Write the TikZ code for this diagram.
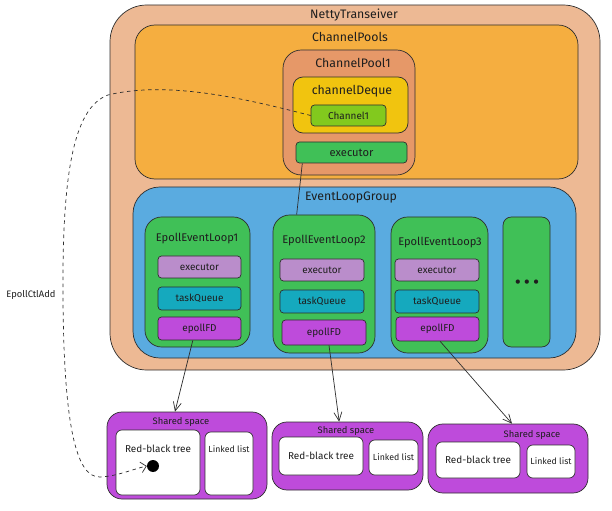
\documentclass[tikz,border=0pt]{standalone}
\usepackage{fontspec}
\setmainfont{Fira Sans}
\usepackage{xcolor}
\usepackage{tikz}
\usetikzlibrary{arrows.meta,positioning,fit}
\definecolor{ink}{HTML}{1E1E1E}
\definecolor{edge}{HTML}{2E2E2E}
\definecolor{peach}{HTML}{EDB994}
\definecolor{poolorange}{HTML}{F5AE40}
\definecolor{poolone}{HTML}{E69868}
\definecolor{deque}{HTML}{F1C40F}
\definecolor{chan}{HTML}{82C91E}
\definecolor{leaf}{HTML}{40C057}
\definecolor{sky}{HTML}{5AABE0}
\definecolor{lilac}{HTML}{BA8DCB}
\definecolor{tealq}{HTML}{15A9BE}
\definecolor{grape}{HTML}{BE4BDB}

\begin{document}
\begin{tikzpicture}[
  x=0.03cm, y=-0.03cm,
  font=\small, text=ink,
  panel/.style={draw=edge, line width=0.6pt, inner sep=0pt},
  item/.style={draw=edge, line width=0.6pt, inner sep=0pt, rounded corners=3pt},
  tag/.style={label={[font=\fontsize{8.5}{10}\selectfont, inner sep=0pt]center:#1}},
  bigtag/.style={label={[font=\fontsize{9.5}{11}\selectfont, inner sep=0pt]center:#1}},
  smalltag/.style={label={[font=\fontsize{7.5}{9}\selectfont, inner sep=0pt]center:#1}},
  memo/.style={draw=edge, line width=0.6pt, inner sep=0pt, fill=white, rounded corners=5pt},
  title/.style={font=\fontsize{10.5}{12}\selectfont, inner sep=1pt},
  looptitle/.style={font=\fontsize{9.5}{11}\selectfont, inner sep=1pt},
  tiny/.style={font=\fontsize{8}{9}\selectfont, inner sep=1pt},
  flow/.style={-{Straight Barb[length=2.6mm, width=2.4mm]}, draw=edge, line width=0.6pt},
  wire/.style={draw=edge, line width=0.6pt},
  link/.style={dashed, draw=edge, line width=0.6pt, -{Straight Barb[length=1.6mm]}}
]
  \useasboundingbox (0,0) rectangle (612,511);

  % transceiver and its channel pools
  \node[panel, fill=peach, rounded corners=1.1cm, fit={(110,5) (600,370)}] (netty) {};
  \node[title] (t-netty) at (354,15) {NettyTranseiver};
  \node[panel, fill=poolorange, rounded corners=0.6cm, fit={(135,25) (578,179)}] (pools) {};
  \node[title] (t-pools) at (350,37) {ChannelPools};
  \node[panel, fill=poolone, rounded corners=0.55cm, fit={(283,50) (415,175)}] (pool1) {};
  \node[title] (t-pool1) at (353,63) {ChannelPool1};
  \node[panel, fill=deque, rounded corners=0.3cm, fit={(293,77) (408,133)}] (deque) {};
  \node[title] (t-deque) at (352,91) {channelDeque};
  \node[item, fill=chan, fit={(311,105) (386,126)}, tag=Channel1] (chan1) {};
  \node[item, fill=leaf, fit={(296,142) (407,163)}, bigtag=executor] (exec0) {};

  % event loop group
  \node[panel, fill=sky, rounded corners=0.8cm, fit={(133,187) (576,358)}] (group) {};
  \node[title] (t-group) at (351,197) {EventLoopGroup};

  \node[panel, fill=leaf, rounded corners=0.5cm, fit={(145,217) (250,347)}] (loop1) {};
  \node[looptitle] (t-loop1) at (197,239) {EpollEventLoop1};
  \node[item, fill=lilac, fit={(158,256) (241,278)}, tag=executor] (ex1) {};
  \node[item, fill=tealq, fit={(158,287) (241,310)}, tag=taskQueue] (tq1) {};
  \node[item, fill=grape, fit={(158,317) (241,340)}, tag=epollFD] (fd1) {};

  \node[panel, fill=leaf, rounded corners=0.5cm, fit={(273,215) (375,353)}] (loop2) {};
  \node[looptitle] (t-loop2) at (324,241) {EpollEventLoop2};
  \node[item, fill=lilac, fit={(280,259) (364,281)}, tag=executor] (ex2) {};
  \node[item, fill=tealq, fit={(280,290) (364,313)}, tag=taskQueue] (tq2) {};
  \node[item, fill=grape, fit={(282,320) (366,345)}, tag=epollFD] (fd2) {};

  \node[panel, fill=leaf, rounded corners=0.5cm, fit={(391,217) (488,353)}] (loop3) {};
  \node[looptitle] (t-loop3) at (440,243) {EpollEventLoop3};
  \node[item, fill=lilac, fit={(395,259) (479,281)}, tag=executor] (ex3) {};
  \node[item, fill=tealq, fit={(395,290) (479,313)}, tag=taskQueue] (tq3) {};
  \node[item, fill=grape, fit={(396,317) (479,341)}, tag=epollFD] (fd3) {};

  \node[panel, fill=leaf, rounded corners=0.25cm, fit={(503,217) (550,347)}] (more) {};
  \node[font=\fontsize{16}{16}\selectfont, inner sep=0pt] (dots) at (527,284) {\textbullet\,\textbullet\,\textbullet};

  % shared spaces
  \node[panel, fill=grape, rounded corners=0.45cm, fit={(107,412) (267,499)}] (ss1) {};
  \node[tiny] (t-ss1) at (181,422) {Shared space};
  \node[memo, fit={(116,430) (200,495)}] (rbt1) {};
  \node[tiny, font=\fontsize{8.5}{10}\selectfont] (t-rbt1) at (158,449) {Red-black tree};
  \node[memo, fit={(205,432) (253,495)}] (ll1) {};
  \node[tiny, font=\fontsize{7.5}{9}\selectfont] (t-ll1) at (229,449) {Linked list};
  \node[circle, fill=black, minimum size=0.36cm, inner sep=0pt] (dot) at (153,466) {};

  \node[panel, fill=grape, rounded corners=0.45cm, fit={(272,422) (423,490)}] (ss2) {};
  \node[tiny] (t-ss2) at (346,431) {Shared space};
  \node[memo, fit={(279,437) (363,475)}, tag=Red-black tree] (rbt2) {};
  \node[memo, fit={(369,440) (418,475)}, smalltag=Linked list] (ll2) {};

  \node[panel, fill=grape, rounded corners=0.45cm, fit={(428,424) (588,493)}] (ss3) {};
  \node[tiny] (t-ss3) at (532,435) {Shared space};
  \node[memo, fit={(436,442) (520,478)}, tag=Red-black tree] (rbt3) {};
  \node[memo, fit={(527,445) (575,478)}, smalltag=Linked list] (ll3) {};

  % connectors
  \draw[wire] ([xshift=0.2cm]exec0.south west) -- ([xshift=0.72cm]loop2.north west);
  \draw[flow] ([xshift=-0.2cm]fd1.south) -- ([xshift=-0.36cm]ss1.north);
  \draw[flow] ([xshift=0.15cm]fd2.south) -- ([xshift=-0.25cm]ss2.north);
  \draw[flow] ([xshift=0.08cm]fd3.south) -- ([xshift=0.12cm]ss3.north);

  \draw[link] (chan1.west) .. controls (250,100) and (170,80) .. (108,95)
    .. controls (72,108) and (62,180) .. (63,300)
    .. controls (64,420) and (75,478) .. (100,477)
    .. controls (118,476) and (130,470) .. (dot.west);
  \node[tiny] (ctladd) at (31,295) {EpollCtlAdd};
\end{tikzpicture}
\end{document}
